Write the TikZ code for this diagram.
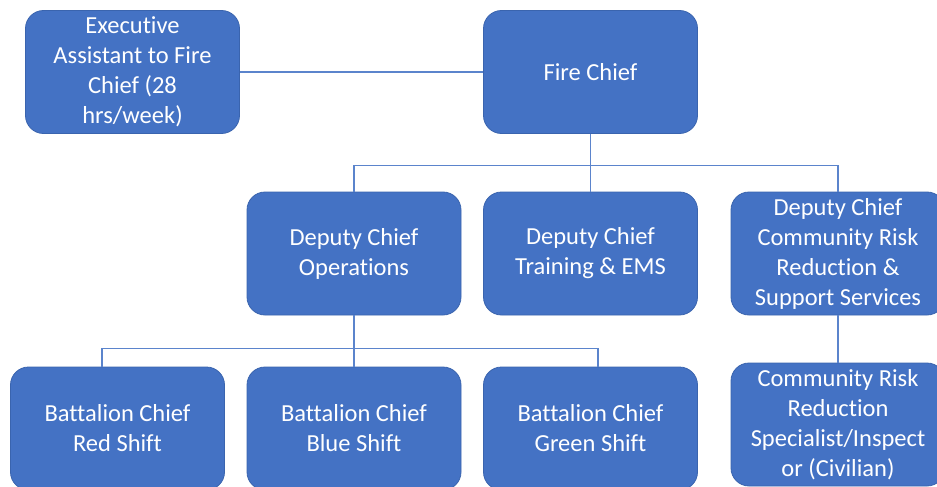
\documentclass[tikz,border=0pt]{standalone}
\usepackage{fontspec}
\setmainfont{Carlito}[Ligatures={NoCommon,NoRequired,NoContextual}]
\usepackage{xcolor}
\usepackage{tikz}
\usetikzlibrary{positioning}

\definecolor{boxblue}{HTML}{4472C4}
\definecolor{boxedge}{HTML}{3A64AE}
\definecolor{linkblue}{HTML}{5B84CC}

\begin{document}
\begin{tikzpicture}[x=1pt, y=-1pt,
    post/.style={rectangle, rounded corners=18pt, fill=boxblue, draw=boxedge,
        line width=0.8pt, text=white, align=center, minimum width=214pt,
        minimum height=123pt, font=\fontsize{24.5}{30}\selectfont},
    link/.style={draw=linkblue, line width=1.3pt}]
    \useasboundingbox (0,0) rectangle (937,487);
    \clip (0,0) rectangle (937,487);

    % top row
    \node[post] (exec) at (132.5,72) {Executive\\Assistant to Fire\\Chief (28\\hrs/week)};
    \node[post] (chief) at (590.5,72) {Fire Chief};

    % deputy chiefs
    \node[post] (ops) at (354,253.5) {Deputy Chief\\Operations};
    \node[post] (train) at (590.5,253.5) {Deputy Chief\\Training \& EMS};
    \node[post] (crr) at (838,253.5) {Deputy Chief\\Community Risk\\Reduction \&\\Support Services};

    % bottom row
    \node[post] (red) at (117.5,428.5) {Battalion Chief\\Red Shift};
    \node[post] (blue) at (354,428.5) {Battalion Chief\\Blue Shift};
    \node[post] (green) at (590.5,428.5) {Battalion Chief\\Green Shift};
    \node[post] (spec) at (838,424.5) {Community Risk\\Reduction\\Specialist/Inspect\\or (Civilian)};

    % connectors
    \draw[link] (exec.east) -- (chief.west);
    \draw[link] (chief.south) -- (train.north);
    \draw[link] (ops.north) -- ++(0,-26) -| (crr.north);
    \draw[link] (ops.south) -- (blue.north);
    \draw[link] ([xshift=-15.5pt]red.north) -- ++(0,-18) -| ([xshift=7.5pt]green.north);
    \draw[link] (crr.south) -- (spec.north);
\end{tikzpicture}
\end{document}
